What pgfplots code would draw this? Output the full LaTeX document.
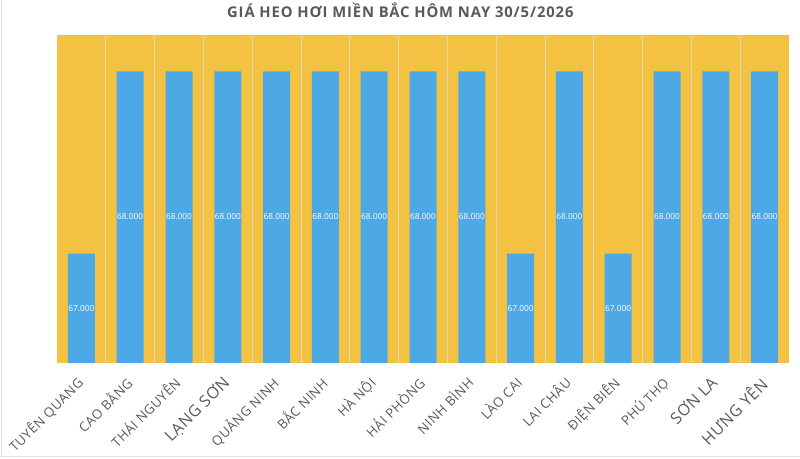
\documentclass[border=0pt]{standalone}
\usepackage{fontspec}
\setmainfont{Open Sans}
\newfontfamily\titlefont[LetterSpace=6]{Open Sans}
\newfontfamily\labelfont[LetterSpace=4]{Open Sans}
\usepackage{pgfplots}
\pgfplotsset{compat=1.18}
\definecolor{bgy}{HTML}{F4C242}
\definecolor{barb}{HTML}{4DA9E6}
\definecolor{txtg}{HTML}{595959}
\definecolor{gridc}{HTML}{E3D7B8}
\begin{document}
\begin{tikzpicture}
\path[use as bounding box] (-57pt,-95pt) rectangle (743pt,363pt);
\draw[black!12, line width=0.8pt] (-55.5pt,-93.5pt) -- (-55.5pt,363pt);
\draw[black!12, line width=0.8pt] (-57pt,-93.5pt) -- (743pt,-93.5pt);
\begin{axis}[
  at={(0,0)}, anchor=south west,
  scale only axis, width=732pt, height=328pt,
  xmin=0.5, xmax=15.5, ymin=66.4, ymax=68.2,
  axis line style={draw=none},
  axis background/.style={fill=bgy},
  ytick=\empty,
  xtick={1,...,15},
  major tick length=0pt,
  minor xtick={1.5,2.5,...,14.5},
  minor tick length=0pt,
  xminorgrids, minor grid style={draw=gridc, line width=0.8pt},
  xticklabels={TUYÊN QUANG, CAO BẰNG, THÁI NGUYÊN, {\fontsize{16}{17}\selectfont LẠNG SƠN}, QUẢNG NINH, BẮC NINH, HÀ NỘI, HẢI PHÒNG, NINH BÌNH, LÀO CAI, LAI CHÂU, ĐIỆN BIÊN, PHÚ THỌ, {\fontsize{16}{17}\selectfont SƠN LA}, {\fontsize{16}{17}\selectfont HƯNG YÊN}},
  xticklabel style={yshift=-12pt, xshift=-6pt, rotate=45, anchor=north east, font=\labelfont\fontsize{13.2}{14}\selectfont, text=txtg, inner sep=0pt},
  title={\titlefont\bfseries GIÁ HEO HƠI MIỀN BẮC HÔM NAY 30/5/2026},
  title style={font=\fontsize{14.8}{16}\selectfont, text=txtg, at={(0.469,1)}, anchor=south, yshift=8pt},
  clip=false,
]
\addplot[ybar, bar width=27pt, fill=barb, draw=none,
  visualization depends on={rawy \as \rawy},
  nodes near coords={\pgfmathprintnumber[fixed, fixed zerofill, precision=3, assume math mode=true]{\pgfplotspointmeta}},
  nodes near coords style={font=\fontsize{8.3}{9}\selectfont, text=white, anchor=center, yshift={-(\rawy-66.4)*91pt}},
] coordinates {
(1,67) (2,68) (3,68) (4,68) (5,68) (6,68) (7,68) (8,68)
(9,68) (10,67) (11,68) (12,67) (13,68) (14,68) (15,68)
};
\end{axis}
\end{tikzpicture}
\end{document}
